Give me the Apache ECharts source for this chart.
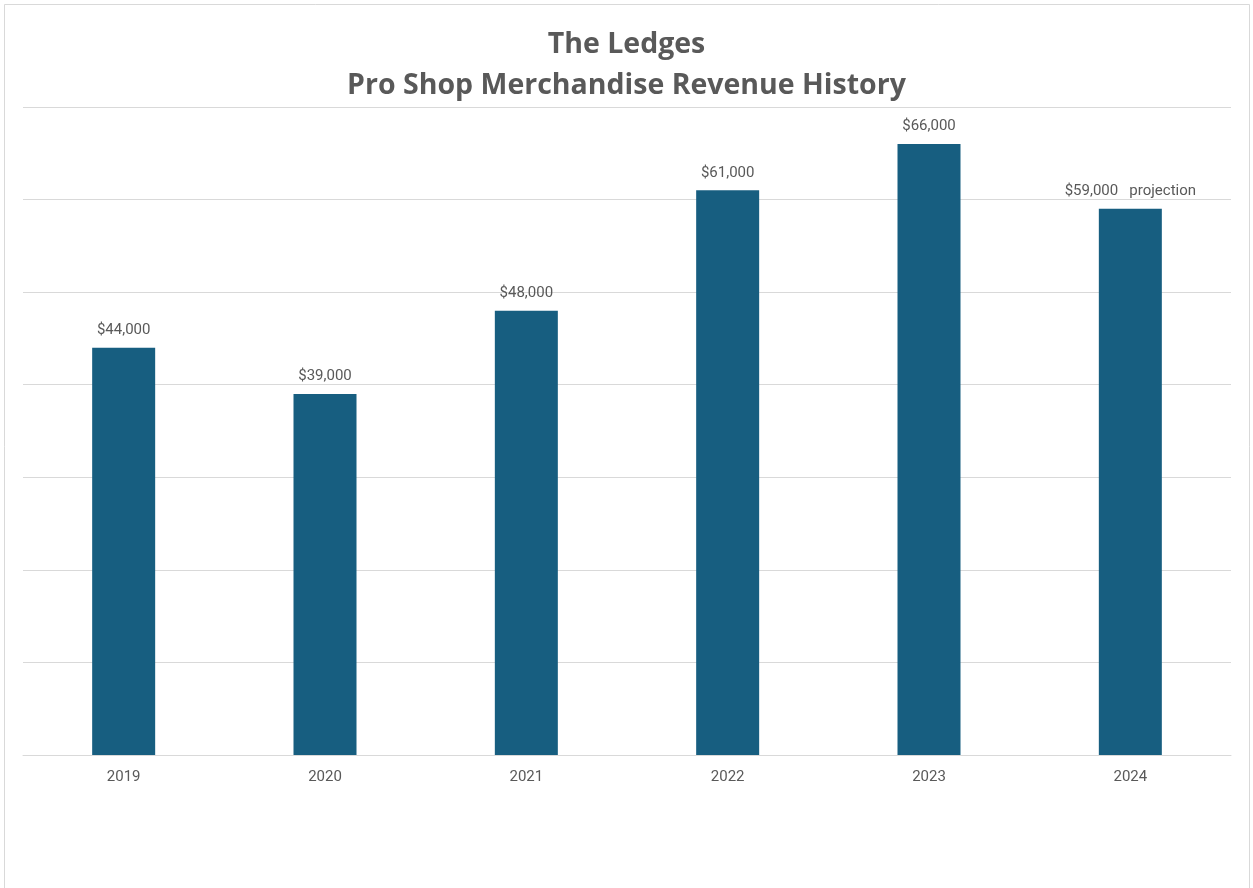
<!DOCTYPE html>
<html>
<head>
<meta charset="utf-8">
<script src="https://cdn.jsdelivr.net/npm/echarts@6/dist/echarts.min.js"></script>
<style>
  html, body { margin: 0; padding: 0; background: #ffffff; }
  #chart { width: 1253px; height: 888px; }
</style>
</head>
<body>
<div id="chart"></div>
<script>
// Revenue by year (USD)
const years = ['2019', '2020', '2021', '2022', '2023', '2024'];
const revenue = [44000, 39000, 48000, 61000, 66000, 59000];
// Extra note shown beside a year's value label
const notes = ['', '', '', '', '', 'projection'];

const fmtMoney = v => '$' + v.toLocaleString('en-US');

const chart = echarts.init(document.getElementById('chart'));
chart.setOption({
  backgroundColor: '#ffffff',
  animation: false,
  graphic: [{
    type: 'rect',
    shape: { x: 4.5, y: 4.5, width: 1245, height: 920 },
    style: { fill: 'none', stroke: '#d9d9d9', lineWidth: 1 },
    silent: true
  }],
  title: {
    text: 'The Ledges\nPro Shop Merchandise Revenue History',
    left: 'center',
    top: 19,
    textStyle: {
      fontFamily: '"Open Sans", "Noto Sans", sans-serif',
      fontWeight: 'bold',
      fontSize: 28.5,
      lineHeight: 41,
      color: '#595959'
    }
  },
  grid: { left: 23, right: 22, top: 107, bottom: 133 },
  xAxis: {
    type: 'category',
    data: years,
    axisLine: { lineStyle: { color: '#d9d9d9', width: 1 } },
    axisTick: { show: false },
    axisLabel: {
      color: '#595959',
      fontFamily: 'Roboto, sans-serif',
      fontSize: 15,
      margin: 15
    }
  },
  yAxis: {
    type: 'value',
    min: 0,
    max: 70000,
    interval: 10000,
    axisLabel: { show: false },
    axisLine: { show: false },
    axisTick: { show: false },
    splitLine: { lineStyle: { color: '#d9d9d9', width: 1 } }
  },
  series: [{
    type: 'bar',
    data: revenue,
    barWidth: 63,
    itemStyle: { color: '#175e80' },
    label: {
      show: true,
      position: 'top',
      distance: 10,
      color: '#595959',
      fontFamily: 'Roboto, sans-serif',
      fontSize: 15,
      formatter: p => {
        const note = notes[p.dataIndex];
        return note ? fmtMoney(p.value) + '   ' + note : fmtMoney(p.value);
      }
    }
  }]
});
</script>
</body>
</html>
